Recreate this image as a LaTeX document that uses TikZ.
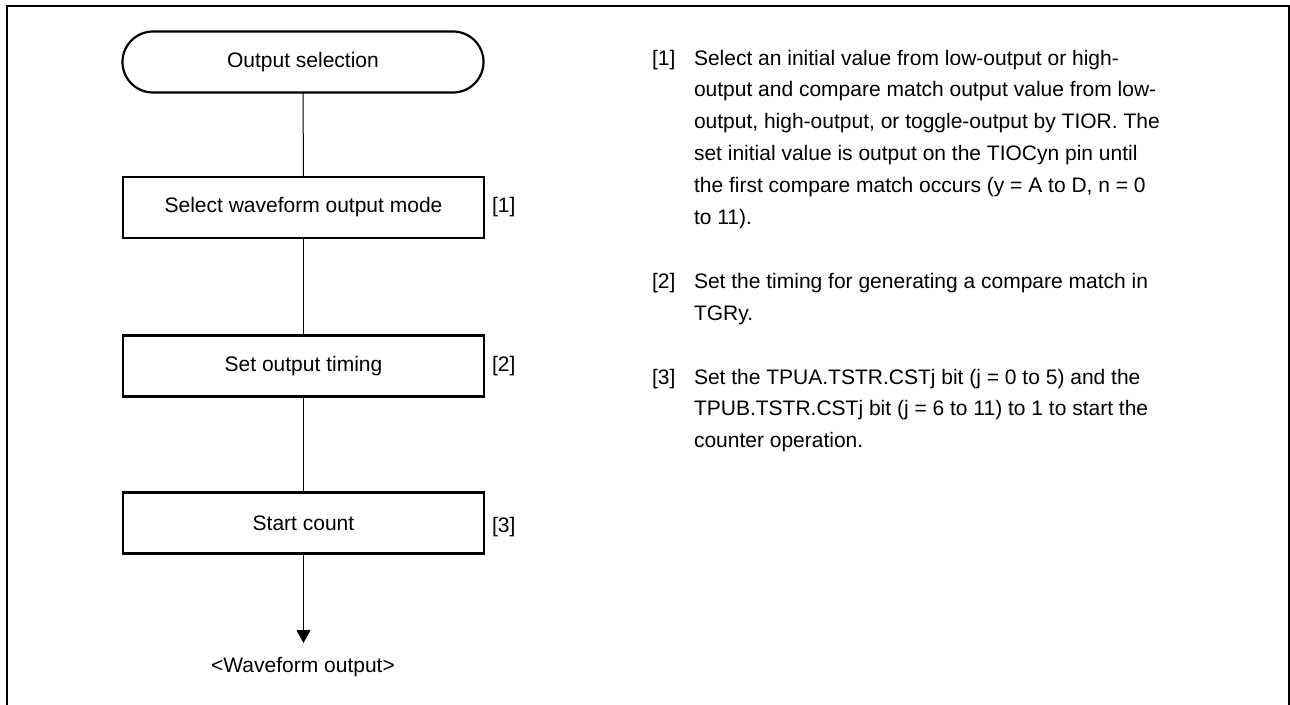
\documentclass[tikz,border=0pt]{standalone}
\usepackage{fontspec}
\setmainfont{Liberation Sans}
\usetikzlibrary{arrows.meta}
\begin{document}
\begin{tikzpicture}[x=1pt,y=-1pt,
  every node/.style={font=\fontsize{21}{32}\selectfont, inner sep=0pt, outer sep=0pt},
  procbox/.style={draw, line width=2.2pt, minimum width=361pt, minimum height=61pt},
  termbox/.style={draw, line width=2.2pt, rounded corners=30.5pt, minimum width=361pt, minimum height=61pt},
  conn/.style={line width=1pt},
  steplbl/.style={anchor=west},
  txtline/.style={anchor=base west}]
\useasboundingbox (0,0) rectangle (1290,704);
\clip (0,0) rectangle (1290,704);
% frame
\draw[line width=2pt] (7,720) -- (7,5.7) -- (1289,5.7) -- (1289,720);
% flowchart
\node[termbox] (start) at (303,62) {Output selection};
\node[procbox] (s1) at (303.5,207.5) {Select waveform output mode};
\node[procbox] (s2) at (303.5,366) {Set output timing};
\node[procbox] (s3) at (303.5,523) {Start count};
\coordinate (endpt) at (303.5,643);
\node (out) at (303,667) {<Waveform output>};
\draw[conn] (start) -- (s1);
\draw[conn] (s1) -- (s2);
\draw[conn] (s2) -- (s3);
\draw[conn,-{Triangle[width=14pt,length=13pt]}] (s3) -- (endpt);
\node[steplbl] (l1) at (492,207.5) {[1]};
\node[steplbl] (l2) at (492,366) {[2]};
\node[steplbl] (l3) at (492,527) {[3]};
% description
\node[txtline] (t1) at (652,65) {[1]};
\node[txtline] (a0) at (694,65) {Select an initial value from low-output or high-};
\node[txtline] (a1) at (694,96.9) {output and compare match output value from low-};
\node[txtline] (a2) at (694,128.8) {output, high-output, or toggle-output by TIOR. The};
\node[txtline] (a3) at (694,160.7) {set initial value is output on the TIOCyn pin until};
\node[txtline] (a4) at (694,192.6) {the first compare match occurs (y = A to D, n = 0};
\node[txtline] (a5) at (694,224.5) {to 11).};
\node[txtline] (t2) at (652,288.3) {[2]};
\node[txtline] (b0) at (694,288.3) {Set the timing for generating a compare match in};
\node[txtline] (b1) at (694,320.2) {TGRy.};
\node[txtline] (t3) at (652,384) {[3]};
\node[txtline] (c0) at (694,384) {Set the TPUA.TSTR.CSTj bit (j = 0 to 5) and the};
\node[txtline] (c1) at (694,415.9) {TPUB.TSTR.CSTj bit (j = 6 to 11) to 1 to start the};
\node[txtline] (c2) at (694,447.8) {counter operation.};
\end{tikzpicture}
\end{document}
